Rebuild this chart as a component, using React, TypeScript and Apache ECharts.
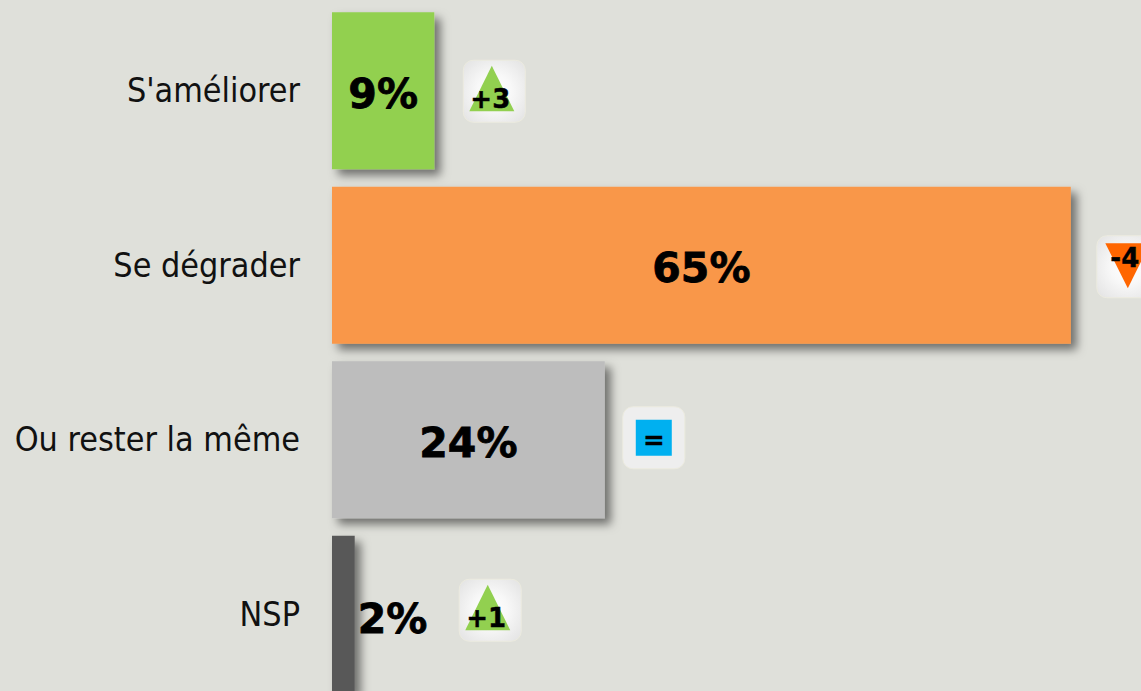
import React, { useEffect, useRef } from "react";
import * as echarts from "echarts";

const categories = ["S'améliorer", "Se dégrader", "Ou rester la même", "NSP"];
const values = [9, 65, 24, 2];
const barColors = ["#92d050", "#f99748", "#bdbdbd", "#595959"];
const deltas = ["+3", "-4", "=", "+1"];
const badgeGapPx: [number, number][] = [[60, 0.5], [57, 1.5], [49, -2], [135.5, -4]];

const labelFont = "'DejaVu Sans', sans-serif";

function badgeChildren(cx: number, cy: number, delta: string) {
  const children: any[] = [
    {
      type: "rect",
      shape: { x: cx - 31, y: cy - 31, width: 62, height: 62, r: 10 },
      style: {
        fill: new echarts.graphic.RadialGradient(0.5, 0.5, 0.62, [
          { offset: 0, color: "#ffffff" },
          { offset: 0.45, color: "#f8f8f8" },
          { offset: 1, color: "#e6e6e6" },
        ]),
        stroke: "#ecebdf",
        lineWidth: 1,
      },
    },
  ];
  let tx = cx, ty = cy;
  if (delta === "=") {
    children[0].style.fill = "#eeeeee";
    children.push({
      type: "rect",
      shape: { x: cx - 18, y: cy - 18, width: 36, height: 36 },
      style: { fill: "#00b0f0" },
    });
    ty = cy + 2;
  } else if (delta.startsWith("+")) {
    children.push({
      type: "polygon",
      shape: { points: [[cx - 2.5, cy - 25.5], [cx - 25, cy + 20], [cx + 20, cy + 20]] },
      style: { fill: "#92d050" },
    });
    tx = cx - 4; ty = cy + 8;
  } else {
    children.push({
      type: "polygon",
      shape: { points: [[cx - 22.5, cy - 23.5], [cx + 22.5, cy - 23.5], [cx, cy + 21.5]] },
      style: { fill: "#ff6600" },
    });
    tx = cx - 3; ty = cy - 9;
  }
  children.push({
    type: "text",
    style: {
      x: tx, y: ty, text: delta, fill: "#000000",
      font: `bold 26px ${labelFont}`, align: "center", verticalAlign: "middle",
      stroke: "#000000", lineWidth: 0.4,
    },
  });
  return children;
}

export default function App() {
  const ref = useRef<HTMLDivElement>(null);
  useEffect(() => {
    document.body.style.margin = "0";
    const chart = echarts.init(ref.current!, null, { renderer: "svg" });
    chart.setOption({
      animation: false,
      backgroundColor: "#dfe0da",
      grid: { left: 332, top: 3.5, width: 807, height: 698, containLabel: false },
      xAxis: { type: "value", min: 0, max: 71, show: false },
      yAxis: {
        type: "category",
        inverse: true,
        data: categories,
        axisLine: { show: false },
        axisTick: { show: false },
        axisLabel: {
          margin: 32,
          fontFamily: "'DejaVu Sans Condensed', 'DejaVu Sans', sans-serif",
          fontSize: 33.8,
          color: "#111111",
        },
      },
      series: [
        {
          type: "bar",
          barWidth: 157,
          data: values.map((v, i) => ({
            value: v,
            itemStyle: {
              color: barColors[i],
              shadowColor: "rgba(0,0,0,0.5)",
              shadowBlur: 10,
              shadowOffsetX: 6,
              shadowOffsetY: 6,
            },
            label: {
              show: true,
              position: v < 5 ? "right" : "inside",
              distance: 3,
              offset: v < 5 ? [0, 5] : [0, 3],
              formatter: "{c}%",
              fontFamily: labelFont,
              fontWeight: "bold",
              fontSize: 41,
              color: "#000000",
              textBorderColor: "#000000",
              textBorderWidth: 0.8,
            },
          })),
        },
        {
          type: "custom",
          clip: false,
          silent: true,
          encode: { x: 0, y: 1 },
          data: values.map((v, i) => [v, i]),
          renderItem: (_p: any, api: any) => {
            const i = api.value(1);
            const pt = api.coord([api.value(0), i]);
            const [dx, dy] = badgeGapPx[i];
            return {
              type: "group",
              children: badgeChildren(pt[0] + dx, pt[1] + dy, deltas[i]),
            };
          },
        },
      ],
    });
    return () => chart.dispose();
  }, []);
  return (
    <div style={{ width: 1141, height: 691, overflow: "hidden" }}>
      <div ref={ref} style={{ width: 1141, height: 720 }} />
    </div>
  );
}
